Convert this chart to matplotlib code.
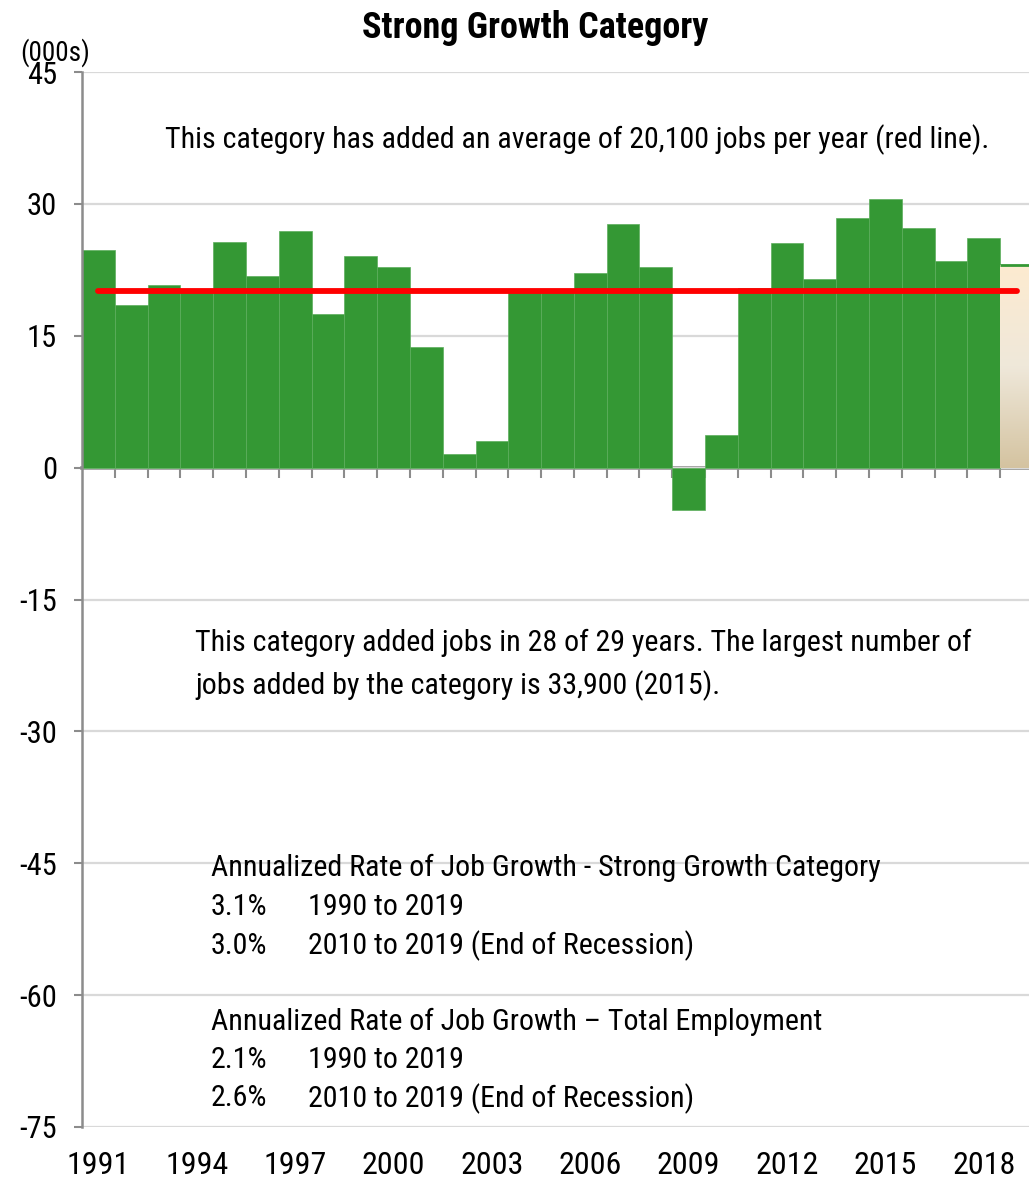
import numpy as np
import matplotlib
matplotlib.use('Agg')
import matplotlib.pyplot as plt
from matplotlib import font_manager
from matplotlib.colors import LinearSegmentedColormap

# data (thousands of jobs added per year)
years = list(range(1991, 2020))
jobs_added = [24.8, 18.5, 20.8, 20.0, 25.7, 21.8, 26.9, 17.5, 24.1, 22.8,
              13.7, 1.6, 3.0, 20.0, 20.0, 22.1, 27.7, 22.8, -4.8, 3.7,
              20.4, 25.5, 21.5, 28.4, 30.6, 27.2, 23.5, 26.1, 23.0]
avg_jobs = 20.1
y_ticks = [45, 30, 15, 0, -15, -30, -45, -60, -75]
label_years = years[::3]

title = "Strong Growth Category"
unit_label = "(000s)"
note_avg = "This category has added an average of 20,100 jobs per year (red line)."
note_years = ["This category added jobs in 28 of 29 years. The largest number of",
              "jobs added by the category is 33,900 (2015)."]
rate_cat_head = "Annualized Rate of Job Growth - Strong Growth Category"
rate_cat = [("3.1%", "1990 to 2019"), ("3.0%", "2010 to 2019 (End of Recession)")]
rate_tot_head = "Annualized Rate of Job Growth \u2013 Total Employment"
rate_tot = [("2.1%", "1990 to 2019"), ("2.6%", "2010 to 2019 (End of Recession)")]

GREEN = '#349834'
GREY = '#8c8c8c'

# reference uses a narrow sans; use one if present, else shrink regular Liberation Sans
names = {f.name for f in font_manager.fontManager.ttflist}
narrow = [n for n in ('Liberation Sans Narrow', 'Roboto Condensed', 'Open Sans Condensed')
          if n in names]
if narrow:
    FONT, k = narrow[0], 1.0
else:
    FONT, k = 'Liberation Sans', 0.83
plt.rcParams['font.family'] = [FONT, 'DejaVu Sans']
TXT = 21.6 * k

W, H = 1029, 1180
fig = plt.figure(figsize=(W / 100, H / 100), dpi=100)


def px(x, y):
    # pixel position (from top-left) -> figure fraction
    return x / W, 1 - y / H


ax = fig.add_axes([82 / W, 1 - 1127 / H, 951 / W, (1127 - 72) / H])

# bars for full years
ax.bar(years[:-1], jobs_added[:-1], width=1.0, color=GREEN,
       edgecolor='#5cae5c', linewidth=0.5, zorder=2)

# last (partial) year drawn with a gradient fill
last = ax.bar(years[-1], jobs_added[-1], width=1.0, facecolor='none',
              edgecolor='none', zorder=2)[0]
grad = LinearSegmentedColormap.from_list('tan', ['#d4c3a0', '#efe8da', '#fdebd0'])
img = ax.imshow(np.linspace(0, 1, 256).reshape(-1, 1), cmap=grad, aspect='auto',
                origin='lower', zorder=2,
                extent=[years[-1] - 0.5, years[-1] + 0.5, 0, jobs_added[-1]])
img.set_clip_path(last)
ax.hlines(jobs_added[-1], years[-1] - 0.5, years[-1] + 0.5, color=GREEN, lw=2, zorder=3)

# average line
ax.plot([years[0], years[-1]], [avg_jobs, avg_jobs], color='red', lw=4.2,
        solid_capstyle='round', zorder=4)

ax.set_xlim(years[0] - 0.5, years[-1] + 0.5)
ax.set_ylim(-75, 45)
ax.set_yticks(y_ticks)
ax.set_yticklabels([str(v) for v in y_ticks])
ax.grid(axis='y', color='#d9d9d9', lw=1.6)
ax.set_axisbelow(True)

for side in ('top', 'right', 'bottom'):
    ax.spines[side].set_visible(False)
ax.spines['left'].set_color(GREY)
ax.spines['left'].set_linewidth(1.8)
ax.tick_params(axis='y', length=6, width=1.5, color=GREY, labelsize=22 * k + (1 - k) * 25, pad=12)

ax.set_xticks(label_years)
ax.tick_params(axis='x', length=0, labelsize=23 * k + (1 - k) * 24, pad=17)

# zero axis with tick marks between bars
zero = ax.secondary_xaxis(0, transform=ax.transData)
zero.set_xticks([y + 0.5 for y in years[:-1]])
zero.tick_params(length=7, width=1.5, color=GREY, labelbottom=False)
zero.spines['bottom'].set_color(GREY)
zero.spines['bottom'].set_linewidth(2.6)

fig.text(*px(535, 28), title, ha='center', va='center', fontsize=26 * k, weight='bold')
fig.text(*px(55, 53), unit_label, ha='center', va='center', fontsize=19.5 * k)

fig.text(*px(165, 140), note_avg, ha='left', va='center', fontsize=TXT)
for i, line in enumerate(note_years):
    fig.text(*px(195, 643 + 43 * i), line, ha='left', va='center', fontsize=TXT)

fig.text(*px(211, 868), rate_cat_head, ha='left', va='center', fontsize=TXT)
for i, (pct, span) in enumerate(rate_cat):
    fig.text(*px(211, 907 + 38.5 * i), pct, ha='left', va='center', fontsize=TXT)
    fig.text(*px(308, 907 + 38.5 * i), span, ha='left', va='center', fontsize=TXT)

fig.text(*px(211, 1022), rate_tot_head, ha='left', va='center', fontsize=TXT)
for i, (pct, span) in enumerate(rate_tot):
    fig.text(*px(211, 1060 + 38.5 * i), pct, ha='left', va='center', fontsize=TXT)
    fig.text(*px(308, 1060 + 38.5 * i), span, ha='left', va='center', fontsize=TXT)

fig.savefig('out.png', dpi=100)
